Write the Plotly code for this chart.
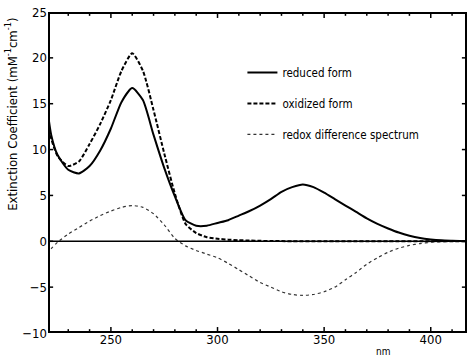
import plotly.graph_objects as go

# wavelengths (nm)
wl = [220, 222, 225, 230, 235, 240, 245, 250, 255, 260, 265, 270, 275, 280, 285,
      290, 295, 300, 305, 310, 315, 320, 325, 330, 335, 340, 345, 350, 355, 360, 365,
      370, 375, 380, 385, 390, 395, 400, 405, 410, 417]

reduced = [14.8, 11.6, 9.4, 7.8, 7.4, 8.2, 9.9, 12.3, 15.2, 16.7, 15.4, 11.6, 8.0, 4.9, 2.3,
           1.7, 1.7, 2.0, 2.3, 2.8, 3.3, 3.9, 4.6, 5.4, 5.9, 6.2, 5.9, 5.3, 4.6, 3.9, 3.2,
           2.5, 1.9, 1.4, 0.95, 0.6, 0.35, 0.2, 0.1, 0.05, 0.0]

oxidized = [13.5, 11.2, 9.3, 8.2, 8.7, 10.6, 12.8, 15.4, 18.6, 20.5, 18.6, 14.3, 9.6, 5.2, 1.9,
            0.9, 0.45, 0.28, 0.18, 0.12, 0.08, 0.05, 0.03, 0.02, 0.0, 0.0, 0.0, 0.0, 0.0, 0.0, 0.0,
            0.0, 0.0, 0.0, 0.0, 0.0, 0.0, 0.0, 0.0, 0.0, 0.0]

difference = [-1.3, -0.8, -0.1, 0.8, 1.5, 2.2, 2.8, 3.3, 3.7, 3.9, 3.7, 3.0, 1.8, 0.3, -0.5,
              -1.0, -1.4, -1.8, -2.4, -3.1, -3.8, -4.5, -5.0, -5.5, -5.8, -5.9, -5.8, -5.5, -5.0, -4.2, -3.4,
              -2.5, -1.8, -1.2, -0.75, -0.45, -0.25, -0.1, -0.05, 0.0, 0.0]

names = ["reduced form", "oxidized form", "redox difference spectrum"]
y_ticks = [-10, -5, 0, 5, 10, 15, 20, 25]
x_ticks = [250, 300, 350, 400]
x_minor_ticks = [230, 240, 260, 270, 280, 290, 310, 320, 330, 340, 360, 370, 380, 390, 410]

font = "DejaVu Sans Condensed"
x_range = [220.5, 417]
y_range = [-10, 25]

fig = go.Figure()
fig.add_trace(go.Scatter(x=wl, y=reduced, name=names[0], mode="lines",
                         line=dict(color="black", width=2, shape="spline", smoothing=0.6),
                         legendgroup="a"))
fig.add_trace(go.Scatter(x=wl, y=oxidized, name=names[1], mode="lines",
                         line=dict(color="black", width=2, dash="4px,2px", shape="spline", smoothing=0.6),
                         legendgroup="b"))
fig.add_trace(go.Scatter(x=wl, y=difference, name=names[2], mode="lines",
                         line=dict(color="#333", width=1.2, dash="dot", shape="spline", smoothing=0.6),
                         legendgroup="c"))

# zero line
fig.add_hline(y=0, line=dict(color="black", width=1.5))

# frame, built from the axis ranges (half of the stroke is clipped by the plot area)
fx = [x_range[0], x_range[1], x_range[1], x_range[0], x_range[0]]
fy = [y_range[0], y_range[0], y_range[1], y_range[1], y_range[0]]
fig.add_trace(go.Scatter(x=fx, y=fy, mode="lines", line=dict(color="black", width=4),
                         showlegend=False, hoverinfo="skip"))

# inward tick marks on all four sides, built from the tick lists
MAJ_Y = 0.65   # major x-tick length, in y units (~6 px)
MIN_Y = 0.42   # minor x-tick length (~4 px)
LEN_X = 2.4    # y-tick length, in nm (~5 px)
tx, ty = [], []
for v, ln in [(v, MAJ_Y) for v in x_ticks] + [(v, MIN_Y) for v in x_minor_ticks]:
    tx += [v, v, None, v, v, None]
    ty += [y_range[0], y_range[0] + ln, None, y_range[1], y_range[1] - ln, None]
for v in y_ticks:
    tx += [x_range[0], x_range[0] + LEN_X, None, x_range[1], x_range[1] - LEN_X, None]
    ty += [v, v, None, v, v, None]
fig.add_trace(go.Scatter(x=tx, y=ty, mode="lines", line=dict(color="black", width=1.5),
                         showlegend=False, hoverinfo="skip", connectgaps=False))

fig.update_layout(
    width=469, height=359,
    margin=dict(l=48, r=2, t=12, b=26),
    paper_bgcolor="white", plot_bgcolor="white",
    font=dict(family=font, size=12, color="black"),
    showlegend=True,
    legend=dict(x=0.464, y=0.857, xanchor="left", yanchor="top",
                bgcolor="rgba(0,0,0,0)", tracegroupgap=12,
                font=dict(family=font, size=11.5, color="black")),
    xaxis=dict(range=x_range, tickvals=x_ticks, ticks="", showline=False,
               showgrid=False, zeroline=False, ticklabelstandoff=-3,
               tickfont=dict(size=13)),
    yaxis=dict(range=y_range, tickvals=y_ticks, ticks="", showline=False,
               showgrid=False, zeroline=False, tickfont=dict(size=13)),
)

fig.add_annotation(text="Extinction Coefficient (mM<sup>-1</sup>cm<sup>-1</sup>)",
                   x=-0.088, y=0.68, xref="paper", yref="paper", showarrow=False,
                   textangle=-90, xanchor="center", yanchor="middle",
                   font=dict(family=font, size=13))

fig.add_annotation(text="nm", x=0.80, y=-0.035, xref="paper", yref="paper", showarrow=False,
                   font=dict(family=font, size=10), xanchor="center", yanchor="top")

fig.write_html("out.html", config={"displayModeBar": False},
               post_script="document.body.style.margin='0px';")
